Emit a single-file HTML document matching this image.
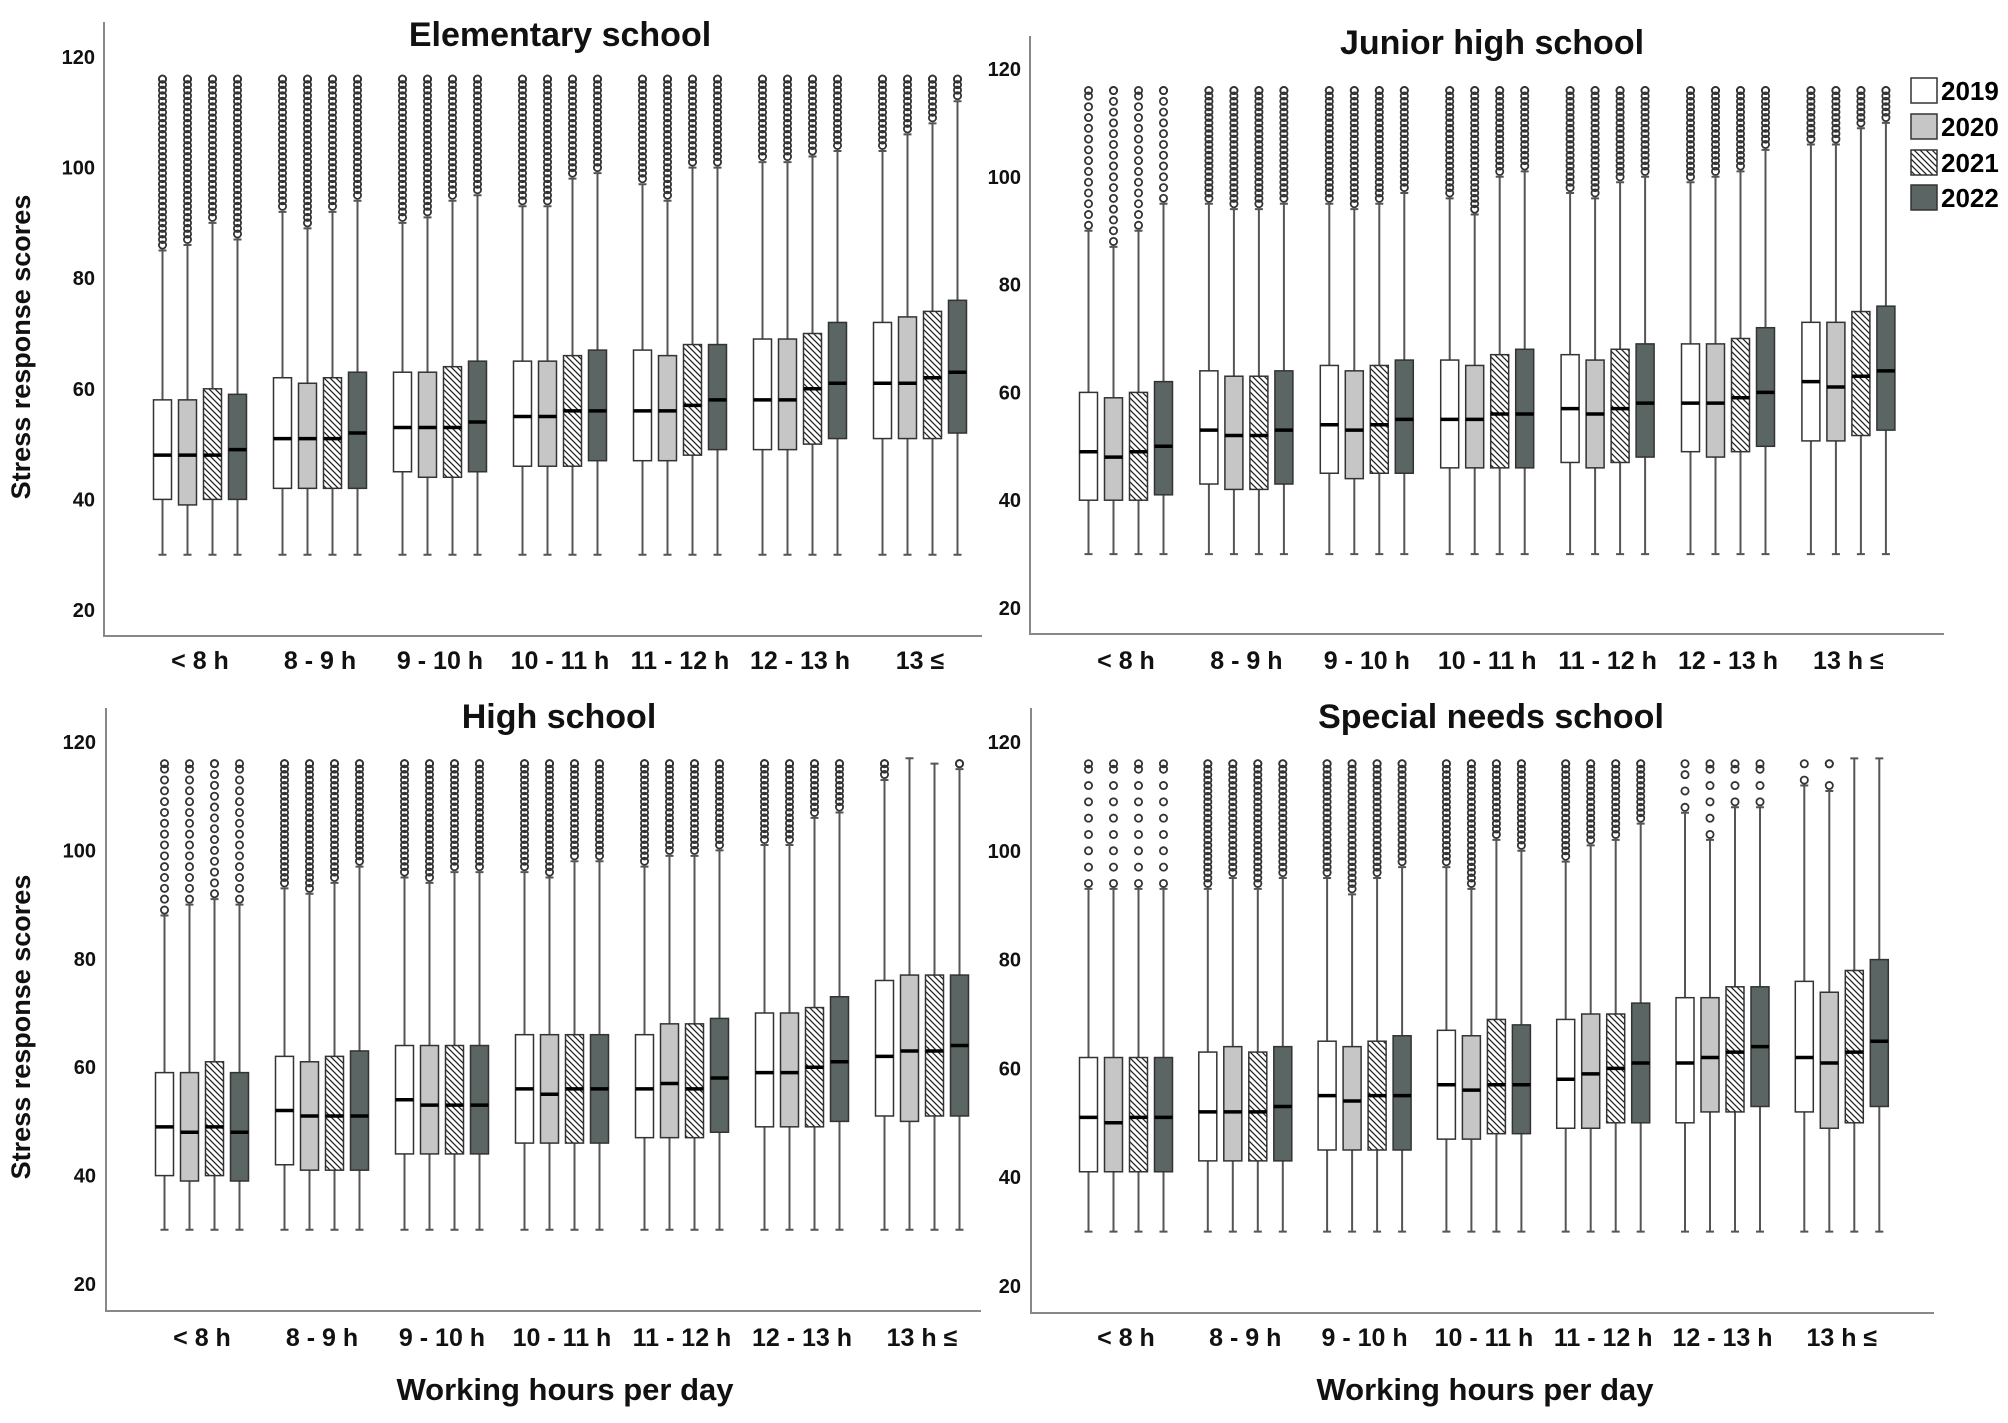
<!DOCTYPE html>
<html><head><meta charset="utf-8"><style>
html,body{margin:0;padding:0;background:#fff;}
svg{display:block;font-family:"Liberation Sans",Arial,sans-serif;}
</style></head><body>
<svg id="chart" width="2008" height="1423" viewBox="0 0 2008 1423" xmlns="http://www.w3.org/2000/svg">
<defs>
<pattern id="hatch" patternUnits="userSpaceOnUse" width="6" height="6">
<rect width="6" height="6" fill="#fff"/>
<path d="M-1,-1 L7,7 M-1,5 L1,7 M5,-1 L7,1" stroke="#222" stroke-width="1.3"/>
</pattern>
</defs>
<text x="0" y="0" transform="translate(30,347) rotate(-90)" text-anchor="middle" font-size="27" font-weight="bold" fill="#111">Stress response scores</text>
<text x="0" y="0" transform="translate(30,1027) rotate(-90)" text-anchor="middle" font-size="27" font-weight="bold" fill="#111">Stress response scores</text>
<text x="565" y="1400" text-anchor="middle" font-size="31" font-weight="bold" fill="#111">Working hours per day</text>
<text x="1485" y="1400" text-anchor="middle" font-size="31" font-weight="bold" fill="#111">Working hours per day</text>
<g>
<rect x="1911" y="78" width="26" height="25" fill="#fff" stroke="#333" stroke-width="1.5"/>
<text x="1941" y="100" font-size="26" font-weight="bold">2019</text>
<rect x="1911" y="114" width="26" height="25" fill="#c6c6c6" stroke="#333" stroke-width="1.5"/>
<text x="1941" y="136" font-size="26" font-weight="bold">2020</text>
<rect x="1911" y="150" width="26" height="25" fill="url(#hatch)" stroke="#333" stroke-width="1.5"/>
<text x="1941" y="172" font-size="26" font-weight="bold">2021</text>
<rect x="1911" y="185" width="26" height="25" fill="#5b6563" stroke="#333" stroke-width="1.5"/>
<text x="1941" y="207" font-size="26" font-weight="bold">2022</text>
</g>
</svg>
<script>
const categories = ["< 8 h","8 - 9 h","9 - 10 h","10 - 11 h","11 - 12 h","12 - 13 h","13 h \u2264"];
const categoriesElem = ["< 8 h","8 - 9 h","9 - 10 h","10 - 11 h","11 - 12 h","12 - 13 h","13 \u2264"];
const years = ["2019","2020","2021","2022"];
const yTicks = [20,40,60,80,100,120];
const whiskerLow = 30;
const outlierMax = 116;

const elemQ1 = [40,39,40,40, 42,42,42,42, 45,44,44,45, 46,46,46,47, 47,47,48,49, 49,49,50,51, 51,51,51,52];
const elemMed = [48,48,48,49, 51,51,51,52, 53,53,53,54, 55,55,56,56, 56,56,57,58, 58,58,60,61, 61,61,62,63];
const elemQ3 = [58,58,60,59, 62,61,62,63, 63,63,64,65, 65,65,66,67, 67,66,68,68, 69,69,70,72, 72,73,74,76];
const elemHi = [85,86,90,87, 92,89,92,94, 90,91,94,95, 93,93,98,99, 97,94,100,100, 101,101,102,103, 103,106,108,112];
const elemStep = [1,1,1,1,1,1,1];

const junQ1 = [40,40,40,41, 43,42,42,43, 45,44,45,45, 46,46,46,46, 47,46,47,48, 49,48,49,50, 51,51,52,53];
const junMed = [49,48,49,50, 53,52,52,53, 54,53,54,55, 55,55,56,56, 57,56,57,58, 58,58,59,60, 62,61,63,64];
const junQ3 = [60,59,60,62, 64,63,63,64, 65,64,65,66, 66,65,67,68, 67,66,68,69, 69,69,70,72, 73,73,75,76];
const junHi = [90,87,90,95, 95,94,94,95, 95,94,95,97, 96,93,100,101, 97,96,99,100, 99,100,101,105, 106,106,109,110];
const junStep = [2,1,1,1,1,1,1];

const highQ1 = [40,39,40,39, 42,41,41,41, 44,44,44,44, 46,46,46,46, 47,47,47,48, 49,49,49,50, 51,50,51,51];
const highMed = [49,48,49,48, 52,51,51,51, 54,53,53,53, 56,55,56,56, 56,57,56,58, 59,59,60,61, 62,63,63,64];
const highQ3 = [59,59,61,59, 62,61,62,63, 64,64,64,64, 66,66,66,66, 66,68,68,69, 70,70,71,73, 76,77,77,77];
const highHi = [88,90,91,90, 93,92,94,97, 95,94,96,96, 96,95,98,98, 97,99,99,100, 101,101,106,107, 113,117,116,115];
const highStep = [2,1,1,1,1,1,1];

const specQ1 = [41,41,41,41, 43,43,43,43, 45,45,45,45, 47,47,48,48, 49,49,50,50, 50,52,52,53, 52,49,50,53];
const specMed = [51,50,51,51, 52,52,52,53, 55,54,55,55, 57,56,57,57, 58,59,60,61, 61,62,63,64, 62,61,63,65];
const specQ3 = [62,62,62,62, 63,64,63,64, 65,64,65,66, 67,66,69,68, 69,70,70,72, 73,73,75,75, 76,74,78,80];
const specHi = [93,93,93,93, 93,95,93,95, 95,92,95,97, 97,93,102,100, 98,101,102,105, 107,102,108,108, 112,111,117,117];
const specStep = [3,1,1,1,1,3,4];

const NS = "http://www.w3.org/2000/svg";
const svg = document.getElementById("chart");
const fills = ["#ffffff","#c6c6c6","url(#hatch)","#5b6563"];

function mk(tag, attrs, parent){
  const e = document.createElementNS(NS, tag);
  for (const k in attrs) e.setAttribute(k, attrs[k]);
  (parent||svg).appendChild(e);
  return e;
}

function drawPanel(id, title, cats, q1, med, q3, hi, step, L){
  const g = mk("g", {});
  
  
  const y = v => L.y120 + (120 - v) * (L.y20 - L.y120) / 100;
  const x = (gi, si) => L.g0 + gi * L.gs + (si - 1.5) * 25;

  const t = mk("text", {x:L.tx, y:L.ty, "text-anchor":"middle", "font-size":"34", "font-weight":"bold", fill:"#111"}, g);
  t.textContent = title;
  
  

  const ax = mk("path", {d:`M${L.ax},${L.top} L${L.ax},${L.bot} L${L.right},${L.bot}`, fill:"none", stroke:"#888", "stroke-width":"2"}, g);
  
  

  yTicks.forEach(v => {
    const tl = mk("text", {x:L.lx, y:y(v)+7, "text-anchor":"end", "font-size":"20", "font-weight":"bold", fill:"#111"}, g);
    tl.textContent = v;
    
    
  });

  cats.forEach((c, gi) => {
    const cl = mk("text", {x:L.g0 + gi*L.gs, y:L.cy, "text-anchor":"middle", "font-size":"25", "font-weight":"bold", fill:"#111"}, g);
    cl.textContent = c;
    
    
    for (let si = 0; si < 4; si++){
      const i = gi*4 + si;
      const cx = x(gi, si);
      const og = mk("g", {fill:"none", stroke:"#333", "stroke-width":"1.8"}, g);
      
      
      if (hi[i] < outlierMax){
        for (let v = hi[i] + 1; v <= outlierMax; v += step[gi]){
          mk("circle", {cx:cx, cy:y(v), r:"3.6"}, og);
        }
        mk("circle", {cx:cx, cy:y(outlierMax), r:"3.6"}, og);
      }
      const wh = mk("path", {d:`M${cx},${y(hi[i])} L${cx},${y(q3[i])} M${cx},${y(q1[i])} L${cx},${y(whiskerLow)} M${cx-4},${y(hi[i])} L${cx+4},${y(hi[i])} M${cx-4},${y(whiskerLow)} L${cx+4},${y(whiskerLow)}`, stroke:"#555", "stroke-width":"2", fill:"none"}, g);
      
      
      const b = mk("rect", {x:cx-9, y:y(q3[i]), width:18, height:y(q1[i])-y(q3[i]), fill:fills[si], stroke:"#333", "stroke-width":"1.5"}, g);
      
      
      const m = mk("line", {x1:cx-9, x2:cx+9, y1:y(med[i]), y2:y(med[i]), stroke:"#000", "stroke-width":"3.5"}, g);
      
      
    }
  });
}

drawPanel("elementary","Elementary school",categoriesElem,elemQ1,elemMed,elemQ3,elemHi,elemStep,
  {ax:104,top:22,bot:636,right:982,y120:57,y20:610,g0:200,gs:120,lx:95,tx:560,ty:46,cy:669});
drawPanel("junior-high","Junior high school",categories,junQ1,junMed,junQ3,junHi,junStep,
  {ax:1030,top:36,bot:634,right:1944,y120:69,y20:608,g0:1126,gs:120.4,lx:1021,tx:1492,ty:54,cy:669});
drawPanel("high-school","High school",categories,highQ1,highMed,highQ3,highHi,highStep,
  {ax:106,top:708,bot:1311,right:981,y120:742,y20:1284,g0:202,gs:120,lx:96,tx:559,ty:728,cy:1346});
drawPanel("special-needs","Special needs school",categories,specQ1,specMed,specQ3,specHi,specStep,
  {ax:1031,top:708,bot:1313,right:1934,y120:742,y20:1286,g0:1126,gs:119.3,lx:1021,tx:1491,ty:728,cy:1346});
</script>
</body></html>
